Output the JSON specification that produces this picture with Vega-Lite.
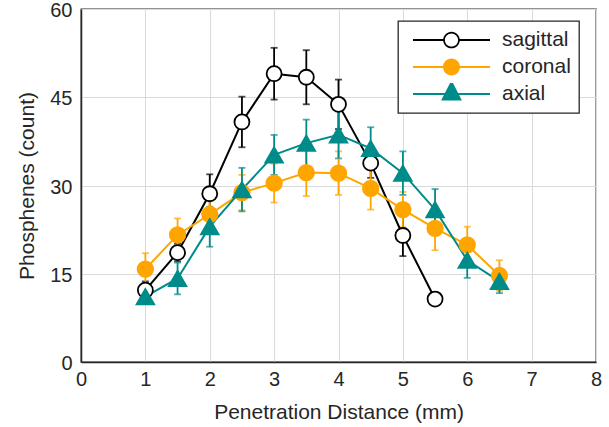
{
  "$schema": "https://vega.github.io/schema/vega-lite/v6.json",
  "width": 515,
  "height": 353,
  "autosize": {"type": "none"},
  "padding": {"left": 81, "top": 9, "right": 13, "bottom": 65},
  "background": "white",
  "config": {
    "font": "Liberation Sans",
    "view": {"stroke": "#262626", "strokeWidth": 1.3},
    "axis": {
      "grid": true,
      "gridColor": "#dadada",
      "gridWidth": 1,
      "domainColor": "#262626",
      "domainWidth": 1.5,
      "ticks": false,
      "labelFont": "Liberation Sans",
      "labelFontSize": 20,
      "labelColor": "#262626",
      "titleFont": "Liberation Sans",
      "titleFontSize": 21,
      "titleFontWeight": "normal",
      "titleColor": "#262626"
    }
  },
  "data": {
    "values": [
      {"d": 1, "orient": "sagittal", "m": 12.2, "e": 1.5},
      {"d": 1.5, "orient": "sagittal", "m": 18.6, "e": 1.5},
      {"d": 2, "orient": "sagittal", "m": 28.6, "e": 3.3},
      {"d": 2.5, "orient": "sagittal", "m": 40.8, "e": 4.3},
      {"d": 3, "orient": "sagittal", "m": 49.0, "e": 4.4},
      {"d": 3.5, "orient": "sagittal", "m": 48.4, "e": 4.6},
      {"d": 4, "orient": "sagittal", "m": 43.8, "e": 4.2},
      {"d": 4.5, "orient": "sagittal", "m": 33.8, "e": 2.5},
      {"d": 5, "orient": "sagittal", "m": 21.5, "e": 3.5},
      {"d": 5.5, "orient": "sagittal", "m": 10.7, "e": 0.8},
      {"d": 1, "orient": "coronal", "m": 15.8, "e": 2.7},
      {"d": 1.5, "orient": "coronal", "m": 21.6, "e": 2.8},
      {"d": 2, "orient": "coronal", "m": 25.1, "e": 2.4},
      {"d": 2.5, "orient": "coronal", "m": 28.8, "e": 3.0},
      {"d": 3, "orient": "coronal", "m": 30.4, "e": 3.3},
      {"d": 3.5, "orient": "coronal", "m": 32.2, "e": 4.0},
      {"d": 4, "orient": "coronal", "m": 32.1, "e": 3.7},
      {"d": 4.5, "orient": "coronal", "m": 29.5, "e": 3.6},
      {"d": 5, "orient": "coronal", "m": 25.9, "e": 3.0},
      {"d": 5.5, "orient": "coronal", "m": 22.7, "e": 3.7},
      {"d": 6, "orient": "coronal", "m": 19.9, "e": 3.1},
      {"d": 6.5, "orient": "coronal", "m": 14.7, "e": 2.6},
      {"d": 1, "orient": "axial", "m": 11.1, "e": 1.0},
      {"d": 1.5, "orient": "axial", "m": 14.2, "e": 2.7},
      {"d": 2, "orient": "axial", "m": 23.0, "e": 3.4},
      {"d": 2.5, "orient": "axial", "m": 29.3, "e": 3.7},
      {"d": 3, "orient": "axial", "m": 35.2, "e": 3.4},
      {"d": 3.5, "orient": "axial", "m": 37.2, "e": 4.0},
      {"d": 4, "orient": "axial", "m": 38.6, "e": 4.0},
      {"d": 4.5, "orient": "axial", "m": 36.3, "e": 3.6},
      {"d": 5, "orient": "axial", "m": 32.1, "e": 3.7},
      {"d": 5.5, "orient": "axial", "m": 25.9, "e": 3.5},
      {"d": 6, "orient": "axial", "m": 17.3, "e": 3.0},
      {"d": 6.5, "orient": "axial", "m": 13.7, "e": 2.0}
    ]
  },
  "encoding": {
    "x": {
      "field": "d",
      "type": "quantitative",
      "scale": {"domain": [0, 8]},
      "axis": {"values": [0, 1, 2, 3, 4, 5, 6, 7, 8], "title": "Penetration Distance (mm)", "labelPadding": 7, "titlePadding": 12, "labelFlush": false}
    },
    "y": {
      "field": "m",
      "type": "quantitative",
      "scale": {"domain": [0, 60]},
      "axis": {"values": [0, 15, 30, 45, 60], "title": "Phosphenes (count)", "labelPadding": 9, "titlePadding": 12, "labelFlush": false, "labelOffset": 1.5}
    }
  },
  "layer": [
    {
      "mark": {"type": "errorbar", "ticks": {"size": 7}, "thickness": 1.8},
      "encoding": {
        "yError": {"field": "e"},
        "color": {
          "field": "orient",
          "type": "nominal",
          "scale": {"domain": ["sagittal", "coronal", "axial"], "range": ["#000000", "#FFA500", "#008B8B"]}
        }
      }
    },
    {
      "mark": {"type": "line", "strokeWidth": 2},
      "encoding": {
        "color": {
          "field": "orient",
          "type": "nominal",
          "scale": {"domain": ["sagittal", "coronal", "axial"], "range": ["#000000", "#FFA500", "#008B8B"]},
          "legend": {
            "orient": "none",
            "legendX": 317,
            "legendY": 12,
            "title": null,
            "strokeColor": "#262626",
            "fillColor": "white",
            "padding": 8,
            "labelFont": "Liberation Sans",
            "labelFontSize": 21,
            "labelColor": "#262626",
            "labelExpr": "datum.label + '\u00a0\u00a0'",
            "symbolSize": 5929,
            "symbolStrokeWidth": 0,
            "clipHeight": 22,
            "rowPadding": 5,
            "symbolOffset": 7,
            "labelOffset": 12,
            "encode": {
              "legend": {"update": {"strokeWidth": {"value": 1.3}}},
              "symbols": {
                "update": {
                  "shape": {"signal": "datum.value === 'axial' ? 'M-1,-0.026H1V0.026H-1Z M0,-0.36L0.27,0.17L-0.27,0.17Z' : datum.value === 'coronal' ? 'M-1,-0.026H1V0.026H-1Z M-0.22,0A0.22,0.22,0,1,1,0.22,0A0.22,0.22,0,1,1,-0.22,0Z' : 'M-1,-0.026H-0.2V0.026H-1Z M0.2,-0.026H1V0.026H0.2Z M-0.216,0A0.216,0.216,0,1,1,0.216,0A0.216,0.216,0,1,1,-0.216,0Z M-0.172,0A0.172,0.172,0,1,0,0.172,0A0.172,0.172,0,1,0,-0.172,0Z'"},
                  "strokeWidth": {"value": 0},
                  "opacity": {"value": 1},
                  "fillOpacity": {"value": 1}
                }
              }
            }
          }
        }
      }
    },
    {
      "transform": [{"filter": "datum.orient === 'sagittal'"}],
      "mark": {"type": "point", "shape": "circle", "size": 225, "fill": "#ffffff", "stroke": "#000000", "opacity": 1, "fillOpacity": 1, "strokeWidth": 1.8}
    },
    {
      "transform": [{"filter": "datum.orient === 'coronal'"}],
      "mark": {"type": "point", "shape": "circle", "size": 240, "fill": "#FFA500", "stroke": "#FFA500", "opacity": 1, "fillOpacity": 1, "strokeWidth": 1.8}
    },
    {
      "transform": [{"filter": "datum.orient === 'axial'"}],
      "mark": {"type": "point", "shape": "triangle-up", "size": 310, "fill": "#008B8B", "stroke": "#008B8B", "opacity": 1, "fillOpacity": 1, "strokeWidth": 1.8}
    }
  ]
}
